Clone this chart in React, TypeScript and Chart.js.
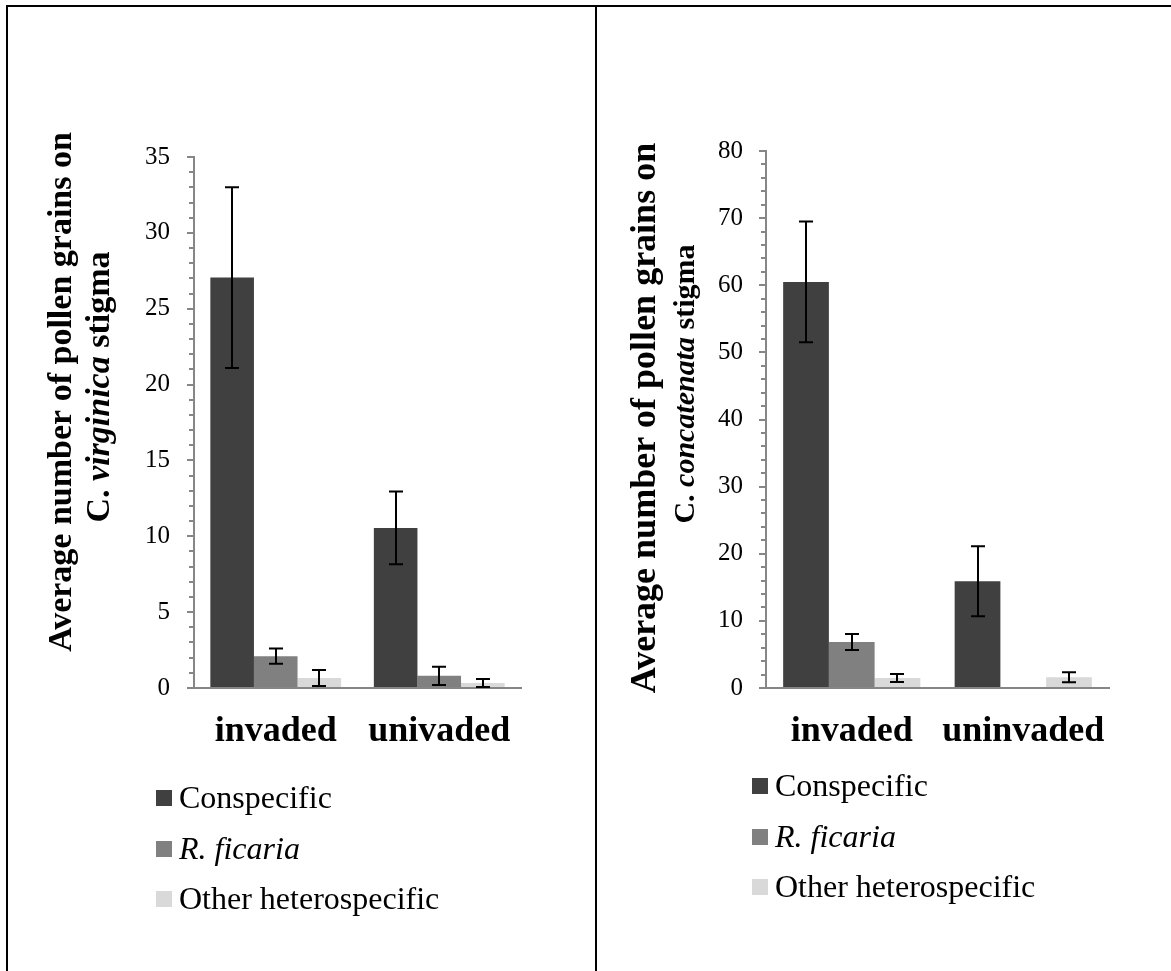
import React, { useEffect, useRef } from 'react';
import { Chart, registerables } from 'chart.js';

Chart.register(...registerables);

const FONT = "'Liberation Serif', 'Times New Roman', Times, serif";

// ---------- data ----------
const seriesNames = ['Conspecific', 'R. ficaria', 'Other heterospecific'];
const seriesColors = ['#404040', '#808080', '#d9d9d9'];

const leftCategories = ['invaded', 'univaded'];
const leftConspecific = [27.05, 10.55];
const leftConspecificErr = [5.95, 2.4];
const leftFicaria = [2.1, 0.8];
const leftFicariaErr = [0.5, 0.6];
const leftOther = [0.66, 0.33];
const leftOtherErr = [0.53, 0.27];
const leftYMax = 35;
const leftMinorStep = 1;
const leftMajorStep = 5;

const rightCategories = ['invaded', 'uninvaded'];
const rightConspecific = [60.5, 15.9];
const rightConspecificErr = [9.0, 5.2];
const rightFicaria = [6.85, 0.1];
const rightFicariaErr = [1.2, 0];
const rightOther = [1.5, 1.6];
const rightOtherErr = [0.6, 0.75];
const rightYMax = 80;
const rightMinorStep = 2;
const rightMajorStep = 10;

type Seg = { t: string; i?: boolean };

const leftTitle: Seg[][] = [
  [{ t: 'Average number of pollen grains on' }],
  [{ t: 'C. ' }, { t: 'virginica', i: true }, { t: ' stigma' }],
];
const rightTitle: Seg[][] = [
  [{ t: 'Average number of pollen grains on' }],
  [{ t: 'C. ' }, { t: 'concatenata', i: true }, { t: ' stigma' }],
];
const legendItems: Seg[][] = [
  [{ t: seriesNames[0] }],
  [{ t: seriesNames[1], i: true }],
  [{ t: seriesNames[2] }],
];

// ---------- layout (page coordinates) ----------
const PAGE_W = 1171;
const PAGE_H = 971;
const AXIS_COLOR = '#868686';

type Panel = {
  canvasX: number;
  canvasW: number;
  plot: { l: number; r: number; t: number; b: number };
  tickPad: number;
  titleLines: { x: number; cy: number; size: number }[];
  legend: { sqX: number; textX: number; baselines: number[]; size: number };
};

const leftPanel: Panel = {
  canvasX: 0,
  canvasW: 595,
  plot: { l: 194, r: 521, t: 157, b: 688 },
  tickPad: 17,
  titleLines: [
    { x: 71, cy: 392, size: 34 },
    { x: 109, cy: 387, size: 34 },
  ],
  legend: { sqX: 156, textX: 179, baselines: [808, 859, 909], size: 32 },
};

const rightPanel: Panel = {
  canvasX: 597,
  canvasW: 574,
  plot: { l: 766, r: 1109, t: 151, b: 688 },
  tickPad: 16,
  titleLines: [
    { x: 655, cy: 418, size: 36 },
    { x: 694, cy: 384, size: 30 },
  ],
  legend: { sqX: 752, textX: 775, baselines: [796, 847, 897], size: 32 },
};

const Y_W = 60;
const X_H = 80;
const MAJOR_TICK = 7;
const MINOR_TICK = 5;

const fontStr = (size: number, bold: boolean, italic?: boolean) =>
  `${italic ? 'italic ' : ''}${bold ? 'bold ' : ''}${size}px ${FONT}`;

const minorTickPlugin = {
  id: 'minorTicks',
  afterDraw(chart: any, _args: any, opts: any) {
    const y = chart.scales.y;
    const ctx = chart.ctx;
    const step: number = opts.step;
    const major: number = opts.major;
    ctx.save();
    ctx.strokeStyle = AXIS_COLOR;
    ctx.lineWidth = 2;
    ctx.beginPath();
    for (let v = 0; v <= y.max + 1e-9; v += step) {
      if (Math.abs(v / major - Math.round(v / major)) < 1e-6) continue;
      const py = Math.round(y.getPixelForValue(v));
      ctx.moveTo(y.right - MINOR_TICK, py);
      ctx.lineTo(y.right, py);
    }
    ctx.stroke();
    ctx.restore();
  },
};

const errorBarPlugin = {
  id: 'errorBars',
  afterDatasetsDraw(chart: any) {
    const ctx = chart.ctx;
    const yScale = chart.scales.y;
    ctx.save();
    ctx.strokeStyle = '#000';
    ctx.lineWidth = 2;
    chart.data.datasets.forEach((ds: any, i: number) => {
      const meta = chart.getDatasetMeta(i);
      meta.data.forEach((el: any, j: number) => {
        const v = ds.data[j];
        const e = ds.errors ? ds.errors[j] : 0;
        if (!e) return;
        const x = Math.round(el.x);
        const yt = yScale.getPixelForValue(v + e);
        const yb = yScale.getPixelForValue(Math.max(0, v - e));
        const half = 7;
        ctx.beginPath();
        ctx.moveTo(x, yt);
        ctx.lineTo(x, yb);
        ctx.moveTo(x - half, yt);
        ctx.lineTo(x + half, yt);
        ctx.moveTo(x - half, yb);
        ctx.lineTo(x + half, yb);
        ctx.stroke();
      });
    });
    ctx.restore();
  },
};

const drawSegs = (ctx: CanvasRenderingContext2D, segs: Seg[], size: number, bold: boolean, x: number, y: number, align: 'center' | 'left') => {
  const widths = segs.map((s) => {
    ctx.font = fontStr(size, bold, s.i);
    return ctx.measureText(s.t).width;
  });
  const total = widths.reduce((a, b) => a + b, 0);
  let cx = align === 'center' ? x - total / 2 : x;
  segs.forEach((s, k) => {
    ctx.font = fontStr(size, bold, s.i);
    ctx.fillText(s.t, cx, y);
    cx += widths[k];
  });
};

const overlayPlugin = {
  id: 'overlay',
  afterDraw(chart: any, _args: any, opts: any) {
    const ctx: CanvasRenderingContext2D = chart.ctx;
    const panel: Panel = opts.panel;
    const title: Seg[][] = opts.title;
    const ox = panel.canvasX;
    ctx.save();
    ctx.fillStyle = '#000';
    ctx.textAlign = 'left';
    ctx.textBaseline = 'alphabetic';
    // y-axis title (rotated)
    title.forEach((segs, k) => {
      const L = panel.titleLines[k];
      ctx.save();
      ctx.translate(L.x - ox, L.cy);
      ctx.rotate(-Math.PI / 2);
      drawSegs(ctx, segs, L.size, true, 0, 0, 'center');
      ctx.restore();
    });
    // legend
    const lg = panel.legend;
    legendItems.forEach((segs, k) => {
      const bl = lg.baselines[k];
      ctx.fillStyle = seriesColors[k];
      ctx.fillRect(lg.sqX - ox, bl - 18, 16, 16);
      ctx.fillStyle = '#000';
      drawSegs(ctx, segs, lg.size, false, lg.textX - ox, bl, 'left');
    });
    ctx.restore();
  },
};

function makeChart(canvas: HTMLCanvasElement, panel: Panel, cats: string[], series: number[][], errs: number[][], yMax: number, minor: number, major: number, title: Seg[][]) {
  const ox = panel.canvasX;
  const p = panel.plot;
  return new Chart(canvas, {
    type: 'bar',
    data: {
      labels: cats,
      datasets: series.map((d, i) => ({
        label: seriesNames[i],
        data: d,
        errors: errs[i],
        backgroundColor: seriesColors[i],
        borderWidth: 0,
        categoryPercentage: 0.8,
        barPercentage: 1.0,
      })) as any,
    },
    options: {
      animation: false,
      responsive: false,
      maintainAspectRatio: false,
      devicePixelRatio: 1,
      layout: {
        padding: {
          left: p.l - ox - Y_W,
          right: panel.canvasW - (p.r - ox),
          top: p.t,
          bottom: PAGE_H - p.b - X_H,
        },
      },
      plugins: {
        legend: { display: false },
        tooltip: { enabled: false },
        overlay: { panel, title },
        minorTicks: { step: minor, major },
      } as any,
      scales: {
        x: {
          z: 1,
          grid: { display: true, drawOnChartArea: false, drawTicks: false },
          border: { display: true, color: AXIS_COLOR, width: 2 },
          ticks: {
            font: { family: FONT, size: 36, weight: 'bold' },
            color: '#000',
            padding: 22,
            maxRotation: 0,
            autoSkip: false,
          },
          afterFit: (s: any) => {
            s.height = X_H;
          },
        },
        y: {
          min: 0,
          max: yMax,
          grid: { display: true, drawOnChartArea: false, drawTicks: true, tickLength: MAJOR_TICK, color: AXIS_COLOR, lineWidth: 2 },
          border: { display: true, color: AXIS_COLOR, width: 2 },
          ticks: {
            stepSize: major,
            autoSkip: false,
            font: { family: FONT, size: 25 },
            color: '#000',
            padding: panel.tickPad,
          },
          afterFit: (s: any) => {
            s.width = Y_W;
          },
        },
      },
    } as any,
    plugins: [minorTickPlugin, errorBarPlugin, overlayPlugin],
  });
}

export default function App() {
  const leftRef = useRef<HTMLCanvasElement>(null);
  const rightRef = useRef<HTMLCanvasElement>(null);

  useEffect(() => {
    const c1 = makeChart(
      leftRef.current!,
      leftPanel,
      leftCategories,
      [leftConspecific, leftFicaria, leftOther],
      [leftConspecificErr, leftFicariaErr, leftOtherErr],
      leftYMax,
      leftMinorStep,
      leftMajorStep,
      leftTitle
    );
    const c2 = makeChart(
      rightRef.current!,
      rightPanel,
      rightCategories,
      [rightConspecific, rightFicaria, rightOther],
      [rightConspecificErr, rightFicariaErr, rightOtherErr],
      rightYMax,
      rightMinorStep,
      rightMajorStep,
      rightTitle
    );
    return () => {
      c1.destroy();
      c2.destroy();
    };
  }, []);

  const line = (l: number, t: number, w: number, h: number) => (
    <div style={{ position: 'absolute', left: l, top: t, width: w, height: h, background: '#000', zIndex: 2 }} />
  );

  return (
    <div style={{ position: 'fixed', left: 0, top: 0, width: PAGE_W, height: PAGE_H, background: '#fff', overflow: 'hidden' }}>
      <canvas
        ref={leftRef}
        width={leftPanel.canvasW}
        height={PAGE_H}
        style={{ position: 'absolute', left: leftPanel.canvasX, top: 0, width: leftPanel.canvasW, height: PAGE_H }}
      />
      <canvas
        ref={rightRef}
        width={rightPanel.canvasW}
        height={PAGE_H}
        style={{ position: 'absolute', left: rightPanel.canvasX, top: 0, width: rightPanel.canvasW, height: PAGE_H }}
      />
      {line(6, 5, PAGE_W - 6, 2)}
      {line(6, 5, 2, PAGE_H - 5)}
      {line(595, 5, 2, PAGE_H - 5)}
    </div>
  );
}
